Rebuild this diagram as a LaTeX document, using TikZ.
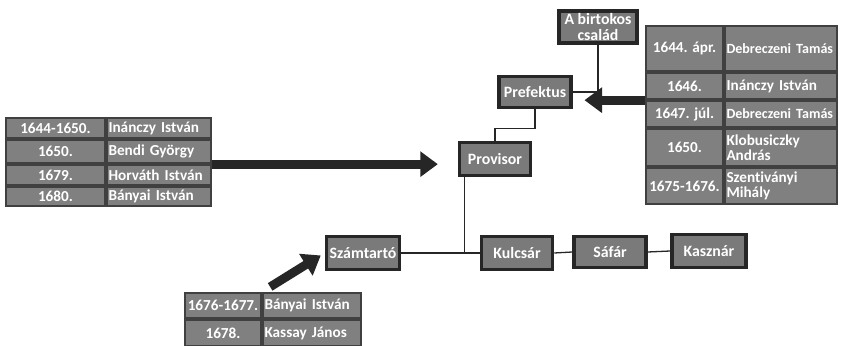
\documentclass[tikz,border=0pt]{standalone}
\usepackage{fontspec}
\setmainfont[Ligatures=NoCommon]{Carlito}
\usetikzlibrary{arrows.meta}

\begin{document}
\begin{tikzpicture}[x=0.03cm,y=-0.03cm]
    \def\px{0.03cm}
    \tikzstyle{office}=[draw=black!85,line width=3pt,fill=black!52,text=white,
      font=\bfseries\fontsize{13.5}{13.5}\selectfont,inner sep=2pt,align=center]
    \tikzstyle{lines}=[draw=black!85,line width=1.1pt]
    \tikzstyle{bigarrow}=[-{Triangle[length=15pt,width=21pt]},line width=7.5pt,draw=black!85]
    \tikzstyle{cell}=[draw=black!75,line width=2pt,fill=black!50,text=white,
      font=\bfseries\fontsize{13}{12.5}\selectfont,inner sep=1.5pt]
    \tikzstyle{yearcell}=[cell,align=center]
    \tikzstyle{namecell}=[cell,align=left]
    \clip (0,0) rectangle (845,346);

    % offices
    \node[office,minimum width=78*\px,minimum height=32*\px] (birtokos) at (598,27) {A birtokos\\család};
    \node[office,minimum width=72*\px,minimum height=31*\px] (prefektus) at (535,92) {Prefektus};
    \node[office,minimum width=71*\px,minimum height=33*\px] (provisor) at (495,159) {Provisor};
    \node[office,minimum width=73*\px,minimum height=33*\px] (szamtarto) at (363,253) {Számtartó};
    \node[office,minimum width=71*\px,minimum height=33*\px] (kulcsar) at (517,253) {Kulcsár};
    \node[office,minimum width=72*\px,minimum height=31*\px] (safar) at (610,252) {Sáfár};
    \node[office,minimum width=74*\px,minimum height=33*\px] (kasznar) at (709,251) {Kasznár};

    % prefektus table
    \node[yearcell,minimum width=77*\px,minimum height=45*\px] (rY1) at (684.5,48.5) {1644. ápr.};
    \node[namecell,minimum width=112*\px,minimum height=45*\px,text width=109*\px] (rN1) at (781,48.5) {\fontsize{12}{12}\selectfont Debreczeni~Tamás};
    \node[yearcell,minimum width=77*\px,minimum height=26*\px] (rY2) at (684.5,86) {1646.};
    \node[namecell,minimum width=112*\px,minimum height=26*\px,text width=109*\px] (rN2) at (781,86) {Inánczy István};
    \node[yearcell,minimum width=77*\px,minimum height=26*\px] (rY3) at (684.5,114) {1647. júl.};
    \node[namecell,minimum width=112*\px,minimum height=26*\px,text width=109*\px] (rN3) at (781,114) {\fontsize{12}{12}\selectfont Debreczeni~Tamás};
    \node[yearcell,minimum width=77*\px,minimum height=37*\px] (rY4) at (684.5,147.5) {1650.};
    \node[namecell,minimum width=112*\px,minimum height=37*\px,text width=109*\px] (rN4) at (781,147.5) {Klobusiczky\\András};
    \node[yearcell,minimum width=77*\px,minimum height=36*\px] (rY5) at (684.5,186) {1675-1676.};
    \node[namecell,minimum width=112*\px,minimum height=36*\px,text width=109*\px] (rN5) at (781,186) {Szentiványi\\Mihály};

    % provisor table
    \node[yearcell,minimum width=99*\px,minimum height=20*\px] (lY1) at (55.5,128) {1644-1650.};
    \node[namecell,minimum width=104*\px,minimum height=20*\px,text width=101*\px] (lN1) at (159,128) {Inánczy István};
    \node[yearcell,minimum width=99*\px,minimum height=23*\px] (lY2) at (55.5,151.5) {1650.};
    \node[namecell,minimum width=104*\px,minimum height=23*\px,text width=101*\px] (lN2) at (159,151.5) {Bendi György};
    \node[yearcell,minimum width=99*\px,minimum height=20*\px] (lY3) at (55.5,175) {1679.};
    \node[namecell,minimum width=104*\px,minimum height=20*\px,text width=101*\px] (lN3) at (159,175) {Horváth István};
    \node[yearcell,minimum width=99*\px,minimum height=19*\px] (lY4) at (55.5,196.5) {1680.};
    \node[namecell,minimum width=104*\px,minimum height=19*\px,text width=101*\px] (lN4) at (159,196.5) {Bányai István};

    % szamtarto table
    \node[yearcell,minimum width=76*\px,minimum height=25*\px] (bY1) at (223,305.5) {1676-1677.};
    \node[namecell,minimum width=98*\px,minimum height=25*\px,text width=95*\px] (bN1) at (312,305.5) {Bányai István};
    \node[yearcell,minimum width=76*\px,minimum height=26*\px] (bY2) at (223,333) {1678.};
    \node[namecell,minimum width=98*\px,minimum height=26*\px,text width=95*\px] (bN2) at (312,333) {Kassay János};

    % connectors
    \draw[lines] (birtokos.south) |- (prefektus.east);
    \draw[lines] (prefektus.south) -- ++(0,19) -| (provisor.north);
    \draw[lines] (provisor.south west) ++(7,0) |- (kulcsar.west);
    \draw[lines] (szamtarto.east) -- (kulcsar.west);
    \draw[lines] (kulcsar.east) -- (safar.west);
    \draw[lines] (safar.east) -- (kasznar.west);

    % arrows
    \draw[bigarrow,shorten >=17pt] (lN2.south east) -- (lN2.south east -| provisor.west);
    \draw[bigarrow,shorten >=10pt] (rY2.south west) -- (rY2.south west -| prefektus.east);
    \draw[bigarrow,shorten <=8pt,shorten >=4pt] (bY1.north east) -- (szamtarto.west);
\end{tikzpicture}
\end{document}
